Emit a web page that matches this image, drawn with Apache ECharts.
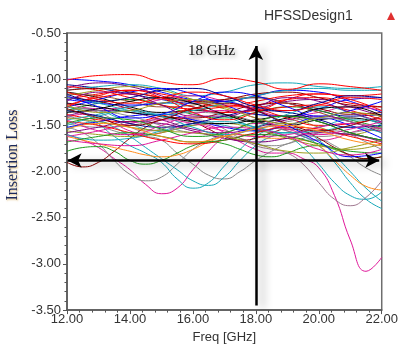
<!DOCTYPE html>
<html>
<head>
<meta charset="utf-8">
<script src="https://cdn.jsdelivr.net/npm/echarts@6/dist/echarts.min.js"></script>
<style>
  html, body { margin: 0; padding: 0; background: #fff; }
  #main { width: 401px; height: 349px; }
</style>
</head>
<body>
<div id="main"></div>
<script>
// frequency grids (GHz)
const freq = [12, 13, 14, 15, 16, 17, 18, 19, 20, 21, 22];
const freqFine = [12, 12.5, 13, 13.5, 14, 14.5, 15, 15.5, 16, 16.5, 17, 17.5, 18, 18.5, 19, 19.5, 20, 20.5, 21, 21.5, 22];

// distinctive traces, read on the fine grid
const magentaDipLeft = [-1.60, -1.66, -1.74, -1.86, -1.98, -2.14, -2.24, -2.18, -1.98, -1.78, -1.62, -1.52, -1.48, -1.50, -1.56, -1.62, -1.66, -1.64, -1.58, -1.55, -1.56];
const magentaDipRight = [-1.42, -1.38, -1.40, -1.48, -1.56, -1.60, -1.58, -1.52, -1.48, -1.50, -1.58, -1.68, -1.76, -1.80, -1.80, -1.86, -1.96, -2.26, -2.74, -3.08, -2.93];
const grayDip1 = [-1.52, -1.58, -1.70, -1.88, -2.03, -2.10, -2.06, -1.92, -1.76, -1.66, -1.62, -1.64, -1.70, -1.72, -1.70, -1.64, -1.58, -1.56, -1.60, -1.68, -1.76];
const grayDip2 = [-1.40, -1.44, -1.50, -1.56, -1.60, -1.62, -1.66, -1.80, -1.92, -2.04, -2.08, -2.00, -1.88, -1.78, -1.70, -1.66, -1.66, -1.72, -1.84, -1.96, -2.04];
const tealDip1 = [-1.30, -1.36, -1.48, -1.62, -1.72, -1.80, -1.90, -2.08, -2.18, -2.12, -1.94, -1.76, -1.62, -1.54, -1.52, -1.56, -1.66, -1.82, -2.00, -2.18, -2.32];
const tealDip2 = [-1.55, -1.48, -1.46, -1.52, -1.62, -1.74, -1.86, -1.98, -2.10, -2.15, -2.06, -1.88, -1.72, -1.62, -1.58, -1.62, -1.72, -1.90, -2.12, -2.30, -2.40];
const tealDip3 = [-1.36, -1.32, -1.34, -1.40, -1.48, -1.54, -1.56, -1.54, -1.50, -1.48, -1.50, -1.54, -1.56, -1.58, -1.62, -1.74, -1.92, -2.12, -2.26, -2.30, -2.22];
const mauveDip = [-1.35, -1.32, -1.36, -1.44, -1.52, -1.56, -1.54, -1.48, -1.44, -1.46, -1.54, -1.64, -1.72, -1.76, -1.80, -1.92, -2.12, -2.30, -2.37, -2.28, -2.10];
const greenLow = [-1.78, -1.74, -1.73, -1.78, -1.88, -1.92, -1.88, -1.80, -1.72, -1.68, -1.70, -1.76, -1.82, -1.84, -1.80, -1.74, -1.72, -1.76, -1.82, -1.86, -1.84];
const maroonLow = [-1.90, -1.95, -1.90, -1.78, -1.64, -1.52, -1.44, -1.42, -1.46, -1.54, -1.62, -1.66, -1.64, -1.58, -1.54, -1.56, -1.64, -1.74, -1.82, -1.86, -1.84];
const orangeLow = [-1.62, -1.66, -1.70, -1.74, -1.78, -1.82, -1.84, -1.82, -1.76, -1.68, -1.62, -1.60, -1.62, -1.64, -1.64, -1.66, -1.72, -1.88, -2.04, -2.16, -2.20];

// bulk traces, read on the 1 GHz grid
const redTop = [-1.01, -0.96, -0.95, -1.03, -1.06, -0.99, -1.03, -1.11, -1.05, -1.08, -1.12];
const c1 = [-1.00, -1.02, -1.06, -1.14, -1.22, -1.24, -1.18, -1.12, -1.14, -1.24, -1.36];
const c2 = [-1.06, -1.10, -1.16, -1.22, -1.26, -1.24, -1.20, -1.26, -1.34, -1.40, -1.38];
const c3 = [-1.12, -1.08, -1.06, -1.10, -1.18, -1.14, -1.06, -1.04, -1.08, -1.10, -1.08];
const c4 = [-1.22, -1.16, -1.12, -1.16, -1.24, -1.30, -1.28, -1.22, -1.20, -1.26, -1.30];
const c5 = [-1.14, -1.20, -1.30, -1.36, -1.34, -1.38, -1.46, -1.50, -1.44, -1.42, -1.48];
const c6 = [-1.10, -1.04, -1.08, -1.18, -1.30, -1.36, -1.32, -1.24, -1.22, -1.30, -1.40];
const c7 = [-1.18, -1.12, -1.08, -1.12, -1.22, -1.32, -1.38, -1.40, -1.52, -1.60, -1.50];
const c8 = [-1.26, -1.32, -1.30, -1.22, -1.18, -1.24, -1.34, -1.40, -1.36, -1.30, -1.34];
const c9 = [-1.34, -1.26, -1.22, -1.28, -1.38, -1.42, -1.36, -1.30, -1.34, -1.44, -1.52];
const c10 = [-1.20, -1.24, -1.32, -1.40, -1.42, -1.36, -1.28, -1.26, -1.32, -1.38, -1.36];
const c11 = [-1.30, -1.22, -1.14, -1.10, -1.16, -1.28, -1.38, -1.40, -1.32, -1.22, -1.20];
const c12 = [-1.38, -1.44, -1.46, -1.40, -1.32, -1.28, -1.32, -1.42, -1.50, -1.48, -1.42];
const c13 = [-1.44, -1.38, -1.30, -1.26, -1.30, -1.40, -1.52, -1.58, -1.52, -1.44, -1.46];
const c14 = [-1.48, -1.52, -1.50, -1.42, -1.36, -1.38, -1.46, -1.56, -1.62, -1.58, -1.52];
const c15 = [-1.16, -1.18, -1.24, -1.30, -1.28, -1.22, -1.20, -1.26, -1.36, -1.46, -1.54];
const c16 = [-1.40, -1.34, -1.36, -1.44, -1.54, -1.58, -1.52, -1.44, -1.40, -1.46, -1.58];
const c17 = [-1.08, -1.12, -1.20, -1.28, -1.32, -1.30, -1.24, -1.18, -1.16, -1.18, -1.16];
const c18 = [-1.52, -1.46, -1.40, -1.38, -1.44, -1.52, -1.56, -1.50, -1.42, -1.50, -1.64];
const c19 = [-1.56, -1.60, -1.62, -1.58, -1.50, -1.48, -1.54, -1.64, -1.72, -1.76, -1.70];
const c20 = [-1.62, -1.56, -1.48, -1.44, -1.48, -1.56, -1.62, -1.60, -1.52, -1.48, -1.54];
const c21 = [-1.26, -1.30, -1.36, -1.40, -1.46, -1.48, -1.44, -1.40, -1.46, -1.58, -1.66];
const c22 = [-1.60, -1.66, -1.64, -1.56, -1.48, -1.46, -1.52, -1.58, -1.56, -1.52, -1.58];
const c23 = [-1.46, -1.50, -1.58, -1.66, -1.70, -1.66, -1.58, -1.52, -1.54, -1.62, -1.70];
const c24 = [-1.68, -1.62, -1.58, -1.62, -1.68, -1.66, -1.60, -1.62, -1.70, -1.78, -1.80];
const c25 = [-1.34, -1.40, -1.48, -1.52, -1.48, -1.40, -1.34, -1.36, -1.44, -1.52, -1.50];
const c26 = [-1.12, -1.10, -1.14, -1.20, -1.24, -1.22, -1.16, -1.14, -1.20, -1.28, -1.30];
const c27 = [-1.22, -1.26, -1.28, -1.26, -1.22, -1.24, -1.34, -1.50, -1.68, -1.84, -1.80];
const c28 = [-1.30, -1.34, -1.40, -1.50, -1.58, -1.60, -1.54, -1.46, -1.42, -1.46, -1.56];
const c29 = [-1.58, -1.52, -1.46, -1.48, -1.56, -1.64, -1.68, -1.64, -1.58, -1.60, -1.68];
const c30 = [-1.28, -1.20, -1.16, -1.20, -1.30, -1.36, -1.34, -1.30, -1.28, -1.34, -1.44];
const c31 = [-1.20, -1.26, -1.34, -1.38, -1.34, -1.26, -1.18, -1.12, -1.10, -1.12, -1.12];
const c32 = [-1.42, -1.46, -1.52, -1.56, -1.58, -1.62, -1.70, -1.78, -1.80, -1.74, -1.66];
const c33 = [-1.66, -1.70, -1.72, -1.66, -1.58, -1.52, -1.54, -1.62, -1.76, -1.82, -1.76];
const c34 = [-1.30, -1.18, -1.12, -1.20, -1.36, -1.44, -1.36, -1.22, -1.16, -1.22, -1.34];
const c35 = [-1.18, -1.30, -1.42, -1.38, -1.24, -1.14, -1.18, -1.30, -1.40, -1.34, -1.24];
const c36 = [-1.50, -1.40, -1.34, -1.40, -1.52, -1.60, -1.52, -1.38, -1.30, -1.36, -1.50];
const c37 = [-1.24, -1.14, -1.16, -1.28, -1.40, -1.40, -1.30, -1.20, -1.24, -1.36, -1.46];
const c38 = [-1.36, -1.32, -1.24, -1.20, -1.26, -1.38, -1.46, -1.42, -1.32, -1.30, -1.40];
const c39 = [-1.44, -1.56, -1.60, -1.50, -1.38, -1.34, -1.42, -1.54, -1.60, -1.54, -1.46];
const c40 = [-1.48, -1.42, -1.44, -1.54, -1.62, -1.58, -1.46, -1.40, -1.46, -1.58, -1.66];
const c41 = [-1.32, -1.42, -1.50, -1.44, -1.32, -1.26, -1.34, -1.48, -1.56, -1.50, -1.40];
const c42 = [-1.16, -1.24, -1.20, -1.12, -1.10, -1.18, -1.30, -1.34, -1.26, -1.18, -1.20];
const c43 = [-1.54, -1.48, -1.52, -1.62, -1.68, -1.62, -1.54, -1.50, -1.56, -1.66, -1.72];
const c44 = [-1.28, -1.36, -1.34, -1.26, -1.22, -1.30, -1.42, -1.48, -1.42, -1.36, -1.40];
const c45 = [-1.14, -1.22, -1.26, -1.20, -1.14, -1.18, -1.28, -1.34, -1.28, -1.20, -1.22];

// annotation positions (data units)
const markerFreq = 18;
const arrowLevel = -1.88;

const RED = '#ff0000', BLUE = '#0000ff', NAVY = '#00008b', TEAL = '#17a9b9',
  MAG = '#e0189a', GRAY = '#8a8a8a', GREEN = '#1c9a1c', ORANGE = '#ff8c1a',
  OLIVE = '#9c9c1c', PURPLE = '#800080', MAROON = '#8b0000', BLACK = '#000000',
  BROWN = '#a0522d', MAUVE = '#a07890';

const fineTraces = [
  [magentaDipLeft, MAG], [magentaDipRight, MAG], [grayDip1, GRAY], [grayDip2, GRAY],
  [tealDip1, TEAL], [tealDip2, TEAL], [tealDip3, TEAL], [mauveDip, MAUVE],
  [greenLow, GREEN], [maroonLow, MAROON], [orangeLow, ORANGE]
];
const coarseTraces = [
  [c1, BLUE], [c2, NAVY], [c3, TEAL], [c4, RED], [c5, BLACK], [c6, PURPLE],
  [c7, OLIVE], [c8, MAG], [c9, GREEN], [c10, MAROON], [c11, BLUE], [c12, RED],
  [c13, TEAL], [c14, GRAY], [c15, BROWN], [c16, PURPLE], [c17, RED], [c18, BLUE],
  [c19, OLIVE], [c20, MAG], [c21, BLACK], [c22, TEAL], [c23, RED], [c24, GREEN],
  [c25, NAVY], [c26, MAROON], [c27, BLUE], [c28, GRAY], [c29, PURPLE], [c30, RED],
  [c31, TEAL], [c32, OLIVE], [c33, MAG], [c34, RED], [c35, BLUE], [c36, TEAL],
  [c37, PURPLE], [c38, BLACK], [c39, MAG], [c40, GREEN], [c41, MAROON], [c42, NAVY],
  [c43, ORANGE], [c44, OLIVE], [c45, RED], [redTop, RED]
];

const toPairs = (xs, ys) => xs.map((x, i) => [x, ys[i]]);
const lineSeries = (xs, ys, color) => ({
  type: 'line',
  data: toPairs(xs, ys),
  smooth: 0.5,
  symbol: 'none',
  lineStyle: { width: 1, color: color },
  silent: true
});

const series = [];
fineTraces.forEach(t => series.push(lineSeries(freqFine, t[0], t[1])));
coarseTraces.forEach(t => series.push(lineSeries(freq, t[0], t[1])));

// arrows with drop shadow
const arrowStyle = {
  color: '#000', width: 2.5, type: 'solid',
  shadowColor: 'rgba(0,0,0,0.35)', shadowBlur: 8, shadowOffsetX: 6, shadowOffsetY: 3
};
series.push({
  type: 'line',
  data: [],
  silent: true,
  markLine: {
    silent: true,
    symbolSize: [11, 14],
    label: { show: false },
    lineStyle: arrowStyle,
    emphasis: { disabled: true },
    data: [
      [{ coord: [markerFreq, -3.45], symbol: 'none' }, { coord: [markerFreq, -0.64], symbol: 'arrow' }],
      [{ coord: [12.02, arrowLevel], symbol: 'arrow' }, { coord: [21.92, arrowLevel], symbol: 'arrow' }]
    ]
  }
});

const chart = echarts.init(document.getElementById('main'), null, { renderer: 'canvas' });
chart.setOption({
  animation: false,
  backgroundColor: '#fff',
  grid: { left: 67, right: 15, top: 33, bottom: 32, show: true, borderColor: '#6e6e6e', borderWidth: 1.5 },
  xAxis: {
    type: 'value',
    min: 12, max: 22, interval: 2,
    axisLine: { show: true, lineStyle: { color: '#555', width: 1.5 } },
    axisTick: { show: true, length: 4, lineStyle: { color: '#555' } },
    minorTick: { show: true, splitNumber: 5, length: 2.5, lineStyle: { color: '#555' } },
    splitLine: { show: false },
    axisLabel: {
      margin: 3, color: '#333', fontSize: 13, fontFamily: 'Liberation Sans, Arial, sans-serif',
      formatter: v => v.toFixed(2)
    },
    name: 'Freq [GHz]', nameLocation: 'middle', nameGap: 17,
    nameTextStyle: { color: '#333', fontSize: 13, fontFamily: 'Liberation Sans, Arial, sans-serif' }
  },
  yAxis: {
    type: 'value',
    min: -3.5, max: -0.5, interval: 0.5,
    axisLine: { show: true, lineStyle: { color: '#555', width: 1.5 } },
    axisTick: { show: true, length: 4, lineStyle: { color: '#555' } },
    minorTick: { show: true, splitNumber: 5, length: 2.5, lineStyle: { color: '#555' } },
    splitLine: { show: false },
    axisLabel: {
      margin: 6, color: '#333', fontSize: 13, fontFamily: 'Liberation Sans, Arial, sans-serif',
      formatter: v => v.toFixed(2)
    }
  },
  graphic: [
    {
      type: 'text', left: 264, top: 9,
      style: { text: 'HFSSDesign1', fill: '#333', font: '14px "Liberation Sans", Arial, sans-serif' }
    },
    {
      type: 'polygon', silent: true,
      shape: { points: [[391, 12], [387, 20], [395, 20]] },
      style: { fill: '#e03030' }
    },
    {
      type: 'text', left: 188, top: 44,
      style: {
        text: '18 GHz', fill: '#111', font: '15px "Liberation Serif", "Times New Roman", serif',
        textShadowColor: 'rgba(0,0,0,0.35)', textShadowBlur: 4, textShadowOffsetX: 2, textShadowOffsetY: 2
      }
    },
    {
      type: 'text', x: 5, y: 155, rotation: Math.PI / 2,
      style: {
        text: 'Insertion Loss', fill: '#1c2a5c', align: 'center', verticalAlign: 'top',
        font: '16px "Liberation Serif", "Times New Roman", serif',
        textShadowColor: 'rgba(210,160,60,0.7)', textShadowBlur: 2, textShadowOffsetX: 1, textShadowOffsetY: 1
      }
    }
  ],
  series: series
});
</script>
</body>
</html>
